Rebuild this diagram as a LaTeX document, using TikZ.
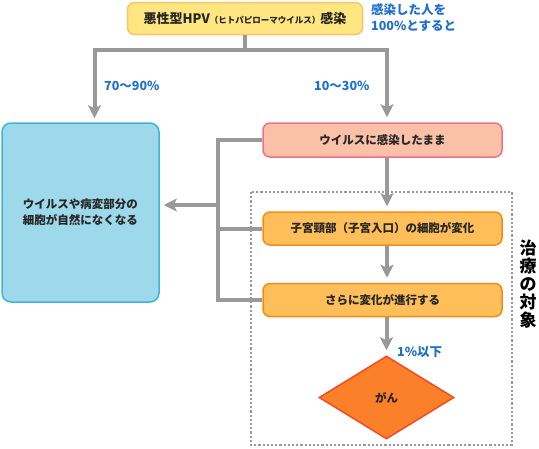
\documentclass[tikz,border=0pt]{standalone}
\usepackage{fontspec}
\setmainfont{Noto Sans CJK JP}
\usetikzlibrary{arrows.meta,shapes.geometric,calc}
\definecolor{topfill}{HTML}{FFE680}
\definecolor{topdraw}{HTML}{FBC46A}
\definecolor{bluefill}{HTML}{9DD9EA}
\definecolor{bluedraw}{HTML}{40B4D8}
\definecolor{pinkfill}{HTML}{FBC0A8}
\definecolor{pinkdraw}{HTML}{F07088}
\definecolor{orfill}{HTML}{FEBE5A}
\definecolor{ordraw}{HTML}{F98B12}
\definecolor{dfill}{HTML}{FC7F2A}
\definecolor{ddraw}{HTML}{F24B26}
\definecolor{conn}{HTML}{999999}
\definecolor{lbl}{HTML}{1E6FCF}
\begin{document}
\begin{tikzpicture}[x=1pt,y=-1pt,
  box/.style={draw, line width=1.5pt, rounded corners=7pt, inner sep=0pt, font=\fontsize{11.5}{14}\selectfont\bfseries, text=black!85},
  link/.style={draw=conn, line width=4pt},
  arr/.style={link, -{Stealth[length=13pt,width=13pt,inset=3pt]}},
  pct/.style={text=lbl, font=\fontsize{12.5}{14}\selectfont\bfseries, inner sep=0pt, anchor=west}
]
\useasboundingbox (0,0) rectangle (539,448);

% dotted frame
\draw[conn, line width=2.2pt, dash pattern=on 2.2pt off 2pt] (251,192) rectangle (512,445);

% nodes
\node[box, fill=topfill, draw=topdraw, minimum width=235pt, minimum height=32pt, font=\fontsize{13}{15}\selectfont\bfseries] (top) at (245,18.5)
  {悪性型HPV{\fontsize{8.5}{10}\selectfont（ヒトパピローマウイルス）}感染};
\node[box, fill=bluefill, draw=bluedraw, rounded corners=9pt, minimum width=157pt, minimum height=179pt, align=center,
  font=\fontsize{11.5}{16}\selectfont\bfseries] (blue) at (80.5,212.5)
  {ウイルスや病変部分の\\細胞が自然になくなる};
\node[box, fill=pinkfill, draw=pinkdraw, minimum width=239pt, minimum height=34pt] (pink) at (382.5,140) {ウイルスに感染したまま};
\node[box, fill=orfill, draw=ordraw, minimum width=239pt, minimum height=33pt] (o1) at (382.5,228.5) {子宮頸部（子宮入口）の細胞が変化};
\node[box, fill=orfill, draw=ordraw, minimum width=239pt, minimum height=33pt] (o2) at (382.5,300) {さらに変化が進行する};
\node[diamond, fill=dfill, draw=ddraw, line width=1.5pt, minimum width=135pt, minimum height=83pt, inner sep=0pt,
  font=\fontsize{11.5}{14}\selectfont\bfseries, text=black!85] (gan) at (386.5,397.5) {がん};

% labels
\node[text=lbl, font=\fontsize{12.5}{15.5}\selectfont\bfseries, align=left, anchor=north west, inner sep=0pt] (note) at (371,3.5)
  {感染した人を\\100\%とすると};
\node[pct] (p1) at (104,86) {70〜90\%};
\node[pct] (p2) at (314,86) {10〜30\%};
\node[pct] (p3) at (397,352) {1\%以下};
\node[font=\fontsize{17}{18}\selectfont\bfseries, align=center, inner sep=0pt] (target) at (528,284)
  {治\\療\\の\\対\\象};

% connectors
\coordinate (split) at (245,50);
\draw[link] (top.south) -- (split);
\draw[arr, shorten >=4pt] (split) -| ([xshift=14pt]blue.north);
\draw[arr, shorten >=5pt] (split) -| ([xshift=4.5pt]pink.north);
\draw[arr, shorten >=5pt] ([xshift=4.5pt]pink.south) -- ([xshift=4.5pt]o1.north);
\draw[arr, shorten >=5pt] ([xshift=4.5pt]o1.south) -- ([xshift=4.5pt]o2.north);
\draw[arr, shorten >=5pt] (o2.south -| gan.north) -- (gan.north);

\coordinate (jt) at (218,140);
\coordinate (jb) at (218,300);
\coordinate (jm) at (218,205);
\draw[link] (pink.west) -- (jt) -- (jb) -- (o2.west);
\draw[link] (o1.west) -- (o1.west -| jt);
\draw[arr, shorten >=4pt] (jm) -- (jm -| blue.east);
\end{tikzpicture}
\end{document}
